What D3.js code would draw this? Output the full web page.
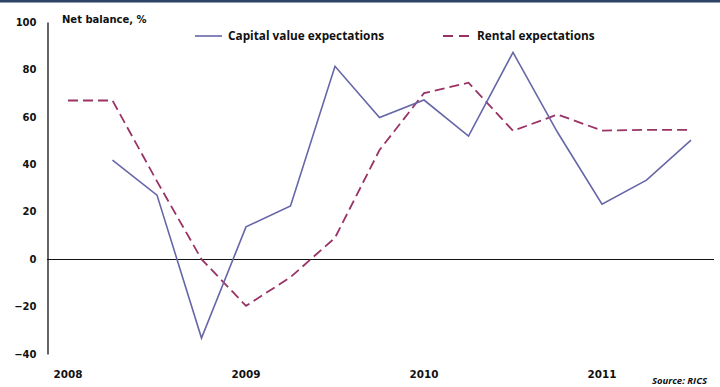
<!DOCTYPE html>
<html>
<head>
<meta charset="utf-8">
<script src="https://cdn.jsdelivr.net/npm/d3@7"></script>
<style>
  html, body { margin: 0; padding: 0; background: #fff; }
  svg { display: block; }
</style>
</head>
<body>
<svg id="chart" width="720" height="387"></svg>
<script>
// Quarterly survey net balances, 2008 Q1 – 2011 Q3
const quarters = ["2008Q1","2008Q2","2008Q3","2008Q4","2009Q1","2009Q2","2009Q3","2009Q4",
                  "2010Q1","2010Q2","2010Q3","2010Q4","2011Q1","2011Q2","2011Q3"];
const capitalValue = [null, 41.8, 27, -33.3, 13.6, 22.4, 81.3, 59.7, 67.1, 51.9, 87.2, 53.5, 23.2, 33.3, 50.2];
const rental       = [66.9, 66.9, 32.8, 0, -19.7, -7.6, 9, 46, 70, 74.4, 54.1, 61, 54.2, 54.5, 54.5];
const yearLabels   = ["2008", "2009", "2010", "2011"];
const yearTickIdx  = [0, 4, 8, 12];
const yTicks       = [-40, -20, 0, 20, 40, 60, 80, 100];

const svg = d3.select("#chart");
const labelFont = "'DejaVu Sans', Verdana, sans-serif";
const legendFont = "'Open Sans', 'Noto Sans', sans-serif";
const ink = "#111";
const capColor = "#6666a8";
const rentColor = "#993366";

// top rule
svg.append("rect").attr("x", 0).attr("y", 0).attr("width", 720).attr("height", 2.5).attr("fill", "#2c4266");

const x = d3.scaleLinear().domain([0, quarters.length - 1]).range([68, 691]);
const y = d3.scaleLinear().domain([-40, 100]).range([354, 22]);

// y axis
const yAxis = svg.append("g")
  .attr("transform", "translate(47.5,0)")
  .call(d3.axisLeft(y).tickValues(yTicks).tickSize(0).tickSizeOuter(0).tickPadding(11));
yAxis.select(".domain").attr("stroke", ink).attr("stroke-width", 1.3);
yAxis.selectAll("text")
  .attr("font-family", labelFont).attr("font-weight", "bold").attr("font-size", 10)
  .attr("fill", ink);

// zero line
svg.append("line")
  .attr("x1", 47).attr("x2", 714)
  .attr("y1", Math.round(y(0)) + 0.5).attr("y2", Math.round(y(0)) + 0.5)
  .attr("stroke", ink).attr("stroke-width", 1.2);

// year labels
svg.append("g").selectAll("text")
  .data(yearLabels)
  .join("text")
  .attr("x", (d, i) => x(yearTickIdx[i]))
  .attr("y", 378)
  .attr("text-anchor", "middle")
  .attr("font-family", labelFont).attr("font-weight", "bold").attr("font-size", 10.4)
  .attr("fill", ink)
  .text(d => d);

// series lines
const line = d3.line()
  .defined(d => d != null)
  .x((d, i) => x(i))
  .y(d => y(d));

svg.append("path")
  .datum(rental)
  .attr("d", line)
  .attr("fill", "none")
  .attr("stroke", rentColor)
  .attr("stroke-width", 1.8)
  .attr("stroke-dasharray", "10,5");

svg.append("path")
  .datum(capitalValue)
  .attr("d", line)
  .attr("fill", "none")
  .attr("stroke", capColor)
  .attr("stroke-width", 1.6);

// axis title
svg.append("text")
  .attr("x", 62).attr("y", 23)
  .attr("font-family", labelFont).attr("font-weight", "bold").attr("font-size", 10)
  .attr("fill", ink)
  .text("Net balance, %");

// legend
const legend = svg.append("g");
legend.append("line")
  .attr("x1", 195).attr("x2", 222).attr("y1", 36).attr("y2", 36)
  .attr("stroke", capColor).attr("stroke-width", 1.6);
legend.append("text")
  .attr("x", 228).attr("y", 40)
  .attr("font-family", legendFont).attr("font-weight", "bold").attr("font-size", 11.8)
  .attr("fill", ink)
  .text("Capital value expectations");
legend.append("line")
  .attr("x1", 443).attr("x2", 471).attr("y1", 36).attr("y2", 36)
  .attr("stroke", rentColor).attr("stroke-width", 1.8)
  .attr("stroke-dasharray", "10,6");
legend.append("text")
  .attr("x", 477).attr("y", 40)
  .attr("font-family", legendFont).attr("font-weight", "bold").attr("font-size", 11.8)
  .attr("fill", ink)
  .text("Rental expectations");

// source note
svg.append("text")
  .attr("x", 707).attr("y", 384)
  .attr("text-anchor", "end")
  .attr("font-family", legendFont).attr("font-weight", "bold").attr("font-style", "italic")
  .attr("font-size", 9.5)
  .attr("fill", ink)
  .text("Source: RICS");
</script>
</body>
</html>
